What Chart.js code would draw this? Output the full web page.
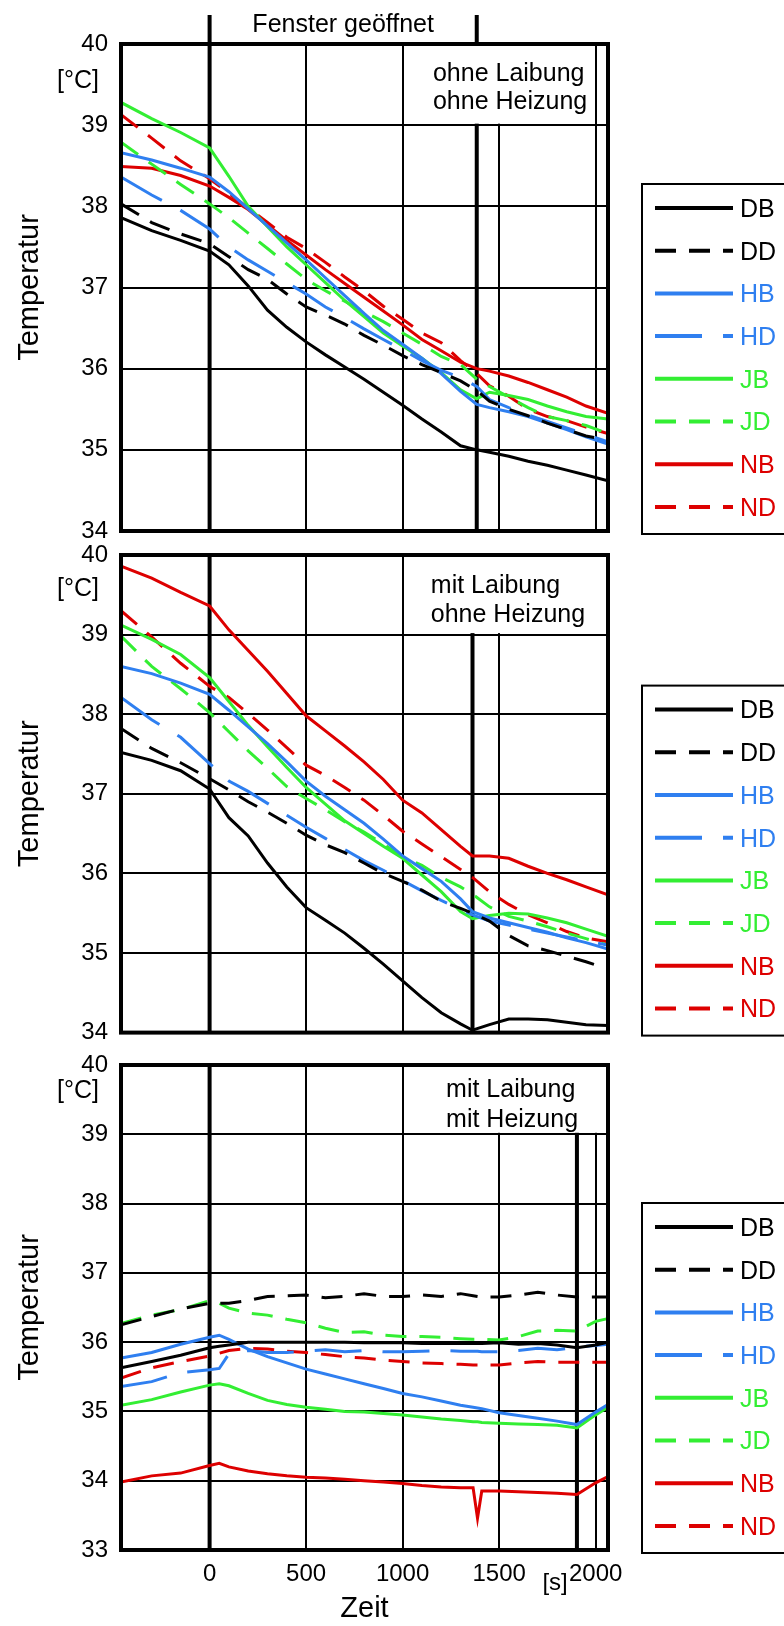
<!DOCTYPE html>
<html lang="de">
<head>
<meta charset="utf-8">
<title>Temperaturverlauf Fenster</title>
<script src="https://cdn.jsdelivr.net/npm/chart.js@4.4.0/dist/chart.umd.min.js"></script>
<style>
  html, body { margin: 0; padding: 0; background: #fff; }
  #wrap { position: relative; width: 784px; height: 1626px; overflow: hidden; }
  #wrap canvas { position: absolute; left: 0; }
</style>
</head>
<body>
<div id="wrap">
  <canvas id="chart1" width="784" height="560" style="top:0px"></canvas>
  <canvas id="chart2" width="784" height="540" style="top:520px"></canvas>
  <canvas id="chart3" width="784" height="596" style="top:1030px"></canvas>
</div>
<script>
// Messreihen (Reihenfolge wie Legende)
const reihen = ['DB', 'DD', 'HB', 'HD', 'JB', 'JD', 'NB', 'ND'];
const xTicks = [0, 500, 1000, 1500, 2000];
const yTicks12 = [34, 35, 36, 37, 38, 39, 40];
const yTicks3 = [33, 34, 35, 36, 37, 38, 39, 40];
const fensterZu = [1384, 1362, 1903];   // Fenster wieder geschlossen [s]
const panelText = [
    ['ohne Laibung', 'ohne Heizung'],
    ['mit Laibung', 'ohne Heizung'],
    ['mit Laibung', 'mit Heizung']
];

// oben: ohne Laibung, ohne Heizung
const zeit1 = [-459, -300, -150, 0, 100, 200, 300, 400, 500, 600, 700, 800, 900, 1000, 1100, 1200, 1300, 1384, 1450, 1550, 1650, 1750, 1850, 1950, 2064];
const db1 = [37.86, 37.70, 37.58, 37.45, 37.28, 37.02, 36.72, 36.51, 36.33, 36.17, 36.02, 35.87, 35.71, 35.55, 35.38, 35.22, 35.05, 35.00, 34.97, 34.92, 34.86, 34.81, 34.75, 34.69, 34.62];
const dd1 = [38.03, 37.80, 37.66, 37.54, 37.38, 37.22, 37.10, 36.92, 36.76, 36.66, 36.55, 36.41, 36.29, 36.16, 36.05, 35.95, 35.85, 35.73, 35.60, 35.50, 35.42, 35.33, 35.25, 35.17, 35.12];
const hb1 = [38.66, 38.57, 38.47, 38.36, 38.18, 37.97, 37.76, 37.55, 37.34, 37.12, 36.90, 36.68, 36.47, 36.30, 36.13, 35.94, 35.72, 35.56, 35.52, 35.47, 35.41, 35.33, 35.25, 35.16, 35.07];
const hd1 = [38.36, 38.14, 37.95, 37.72, 37.50, 37.34, 37.20, 37.06, 36.92, 36.76, 36.63, 36.49, 36.36, 36.23, 36.10, 35.98, 35.89, 35.78, 35.62, 35.52, 35.43, 35.35, 35.27, 35.19, 35.10];
const jb1 = [39.28, 39.08, 38.91, 38.72, 38.37, 38.00, 37.75, 37.50, 37.28, 37.06, 36.84, 36.64, 36.44, 36.28, 36.13, 35.95, 35.74, 35.63, 35.71, 35.67, 35.62, 35.54, 35.47, 35.41, 35.38];
const jd1 = [38.79, 38.52, 38.27, 38.03, 37.86, 37.67, 37.48, 37.29, 37.10, 36.96, 36.83, 36.70, 36.58, 36.44, 36.30, 36.15, 36.05, 35.87, 35.78, 35.65, 35.52, 35.41, 35.36, 35.30, 35.20];
const nb1 = [38.49, 38.47, 38.38, 38.25, 38.11, 37.96, 37.77, 37.58, 37.40, 37.22, 37.05, 36.88, 36.71, 36.54, 36.36, 36.22, 36.08, 36.00, 35.97, 35.91, 35.83, 35.74, 35.65, 35.54, 35.45];
const nd1 = [39.13, 38.84, 38.56, 38.34, 38.16, 37.98, 37.80, 37.62, 37.48, 37.31, 37.13, 36.96, 36.77, 36.61, 36.44, 36.32, 36.10, 35.94, 35.79, 35.66, 35.50, 35.41, 35.36, 35.28, 35.20];

// mitte: mit Laibung, ohne Heizung
const zeit2 = [-459, -300, -150, 0, 100, 200, 300, 400, 500, 600, 700, 800, 900, 1000, 1100, 1200, 1300, 1362, 1450, 1550, 1650, 1750, 1850, 1950, 2064];
const db2 = [37.52, 37.42, 37.29, 37.06, 36.70, 36.47, 36.13, 35.83, 35.57, 35.41, 35.25, 35.06, 34.86, 34.65, 34.44, 34.25, 34.11, 34.03, 34.10, 34.17, 34.17, 34.16, 34.13, 34.10, 34.09];
const dd2 = [37.82, 37.57, 37.39, 37.19, 37.05, 36.90, 36.77, 36.63, 36.48, 36.36, 36.26, 36.13, 36.00, 35.90, 35.79, 35.65, 35.56, 35.50, 35.40, 35.22, 35.09, 35.03, 34.96, 34.89, 34.80];
const hb2 = [38.60, 38.51, 38.39, 38.25, 38.05, 37.84, 37.63, 37.40, 37.16, 36.97, 36.80, 36.63, 36.43, 36.22, 36.06, 35.90, 35.68, 35.52, 35.44, 35.38, 35.32, 35.26, 35.19, 35.13, 35.05];
const hd2 = [38.21, 37.93, 37.71, 37.38, 37.16, 37.03, 36.88, 36.73, 36.58, 36.44, 36.30, 36.16, 36.04, 35.91, 35.78, 35.66, 35.55, 35.48, 35.40, 35.35, 35.30, 35.25, 35.20, 35.15, 35.10];
const jb2 = [39.12, 38.94, 38.75, 38.46, 38.16, 37.86, 37.59, 37.33, 37.08, 36.87, 36.66, 36.50, 36.34, 36.19, 35.98, 35.77, 35.52, 35.43, 35.47, 35.50, 35.49, 35.44, 35.38, 35.30, 35.21];
const jd2 = [38.98, 38.60, 38.32, 38.02, 37.78, 37.54, 37.32, 37.09, 36.94, 36.80, 36.65, 36.52, 36.37, 36.21, 36.10, 35.95, 35.83, 35.74, 35.58, 35.46, 35.40, 35.33, 35.25, 35.18, 35.10];
const nb2 = [39.86, 39.71, 39.53, 39.36, 39.06, 38.80, 38.54, 38.26, 37.98, 37.79, 37.60, 37.40, 37.18, 36.92, 36.76, 36.55, 36.34, 36.22, 36.22, 36.19, 36.09, 36.00, 35.92, 35.83, 35.73];
const nd2 = [39.30, 38.97, 38.64, 38.35, 38.21, 38.01, 37.80, 37.58, 37.36, 37.23, 37.08, 36.92, 36.73, 36.53, 36.37, 36.21, 36.05, 35.95, 35.77, 35.61, 35.48, 35.38, 35.27, 35.19, 35.14];

// unten: mit Laibung, mit Heizung
const zeit3 = [-459, -300, -150, 0, 50, 100, 200, 300, 400, 500, 600, 700, 800, 900, 1000, 1100, 1200, 1300, 1365, 1388, 1410, 1500, 1600, 1700, 1800, 1903, 2000, 2064];
const db3 = [35.63, 35.72, 35.81, 35.92, 35.94, 35.96, 36.00, 36.00, 36.00, 36.00, 36.00, 36.00, 35.99, 35.99, 35.99, 35.98, 35.98, 35.98, 35.98, 35.98, 35.98, 35.99, 35.97, 35.98, 35.96, 35.92, 35.96, 36.00];
const dd3 = [36.25, 36.37, 36.48, 36.56, 36.56, 36.56, 36.60, 36.66, 36.67, 36.68, 36.64, 36.66, 36.70, 36.66, 36.66, 36.68, 36.66, 36.70, 36.67, 36.66, 36.65, 36.65, 36.68, 36.72, 36.68, 36.65, 36.65, 36.65];
const hb3 = [35.77, 35.85, 35.97, 36.07, 36.10, 36.04, 35.90, 35.79, 35.70, 35.61, 35.54, 35.47, 35.40, 35.33, 35.26, 35.21, 35.15, 35.09, 35.06, 35.05, 35.04, 34.98, 34.94, 34.90, 34.86, 34.81, 34.99, 35.10];
const hd3 = [35.36, 35.43, 35.56, 35.60, 35.62, 35.83, 35.88, 35.85, 35.85, 35.87, 35.89, 35.86, 35.88, 35.86, 35.86, 35.87, 35.88, 35.87, 35.87, 35.87, 35.86, 35.86, 35.88, 35.91, 35.89, 35.93, 35.95, 35.97];
const jb3 = [35.09, 35.17, 35.28, 35.38, 35.40, 35.37, 35.26, 35.16, 35.10, 35.06, 35.03, 35.00, 34.99, 34.97, 34.95, 34.92, 34.89, 34.87, 34.85, 34.85, 34.84, 34.83, 34.82, 34.81, 34.80, 34.76, 34.95, 35.06];
const jd3 = [36.27, 36.39, 36.47, 36.60, 36.56, 36.49, 36.42, 36.39, 36.33, 36.28, 36.20, 36.14, 36.15, 36.10, 36.08, 36.08, 36.07, 36.05, 36.04, 36.04, 36.04, 36.03, 36.08, 36.16, 36.17, 36.16, 36.30, 36.34];
const nb3 = [33.98, 34.07, 34.11, 34.22, 34.25, 34.20, 34.14, 34.10, 34.07, 34.05, 34.04, 34.02, 34.00, 33.98, 33.96, 33.93, 33.91, 33.90, 33.90, 33.46, 33.85, 33.85, 33.84, 33.83, 33.82, 33.80, 33.97, 34.06];
const nd3 = [35.48, 35.63, 35.72, 35.80, 35.84, 35.88, 35.91, 35.90, 35.87, 35.85, 35.82, 35.79, 35.77, 35.74, 35.72, 35.70, 35.69, 35.68, 35.67, 35.67, 35.67, 35.67, 35.70, 35.72, 35.71, 35.71, 35.71, 35.71];

const SCHRIFT = '"Liberation Sans", Arial, Helvetica, sans-serif';
Chart.defaults.font.family = SCHRIFT;
Chart.defaults.color = '#000';

function farbe(name) {
    return { D: '#000000', H: '#2f7ff0', J: '#33ee33', N: '#dd0000' }[name[0]];
}

function strich(name) {
    if (name === 'HD') return [47, 21];
    return name[1] === 'D' ? [21, 13] : [];
}

// Rahmen, Fensterlinien, Beschriftungen und Legende
function rahmenPlugin(p, nr) {
    return {
        id: 'rahmen' + nr,
        beforeDatasetsDraw(chart) {
            const { ctx, chartArea: a, scales: { x, y } } = chart;
            ctx.save();
            ctx.strokeStyle = '#000';
            ctx.lineWidth = 4;
            [0, fensterZu[nr]].forEach(v => {
                const px = x.getPixelForValue(v);
                ctx.beginPath();
                ctx.moveTo(px, p.klammer ? a.top - 29 : a.top);
                ctx.lineTo(px, a.bottom);
                ctx.stroke();
            });
            // Feld fuer den Panel-Titel
            const bx0 = x.getPixelForValue(1000) + 1.5;
            const bx1 = p.boxBis ? x.getPixelForValue(p.boxBis) - 1.5 : a.right;
            const by1 = y.getPixelForValue(39) - 1.5;
            ctx.fillStyle = '#fff';
            ctx.fillRect(bx0, a.top, bx1 - bx0, by1 - a.top);
            ctx.fillStyle = '#000';
            ctx.font = '25px ' + SCHRIFT;
            ctx.textAlign = 'left';
            ctx.textBaseline = 'alphabetic';
            const tx = x.getPixelForValue(p.textX);
            ctx.fillText(panelText[nr][0], tx, a.top + p.textY[0]);
            ctx.fillText(panelText[nr][1], tx, a.top + p.textY[1]);
            ctx.restore();
        },
        afterDraw(chart) {
            const { ctx, chartArea: a, scales: { x, y } } = chart;
            ctx.save();
            ctx.strokeStyle = '#000';
            ctx.lineWidth = 4;
            ctx.strokeRect(a.left, a.top, a.right - a.left, a.bottom - a.top);

            ctx.fillStyle = '#000';
            ctx.font = '25px ' + SCHRIFT;
            ctx.textAlign = 'right';
            ctx.textBaseline = 'middle';
            ctx.fillText('[°C]', y.right - 22, y.getPixelForValue(p.gradC));

            if (p.klammer) {
                ctx.textAlign = 'center';
                ctx.textBaseline = 'alphabetic';
                const mx = (x.getPixelForValue(0) + x.getPixelForValue(fensterZu[nr])) / 2;
                ctx.fillText('Fenster geöffnet', mx, a.top - 12);
            }
            if (p.achse) {
                ctx.font = '24px ' + SCHRIFT;
                ctx.textAlign = 'center';
                ctx.textBaseline = 'middle';
                ctx.fillText('[s]', x.getPixelForValue(1790), a.bottom + 33);
            }

            // Legende
            const top = a.bottom - 347;
            ctx.lineWidth = 2;
            ctx.strokeRect(642, top, 200, 350);
            chart.data.datasets.forEach((ds, i) => {
                const yy = top + 24 + i * 42.7;
                ctx.strokeStyle = ds.borderColor;
                ctx.lineWidth = 4;
                ctx.setLineDash(ds.borderDash);
                ctx.beginPath();
                ctx.moveTo(655, yy);
                ctx.lineTo(733, yy);
                ctx.stroke();
                ctx.setLineDash([]);
                ctx.fillStyle = ds.borderColor;
                ctx.font = '25px ' + SCHRIFT;
                ctx.textAlign = 'left';
                ctx.textBaseline = 'middle';
                ctx.fillText(ds.label, 740, yy + 2);
            });
            ctx.restore();
        }
    };
}

const panels = [
    { id: 'chart1', zeit: zeit1, werte: [db1, dd1, hb1, hd1, jb1, jd1, nb1, nd1], yTicks: yTicks12,
      pad: { top: 44, right: 176, bottom: 29, left: 0 }, achse: false, klammer: true,
      boxBis: 2000, linie2000: true, textX: 1157, textY: [37, 65], gradC: 39.54 },
    { id: 'chart2', zeit: zeit2, werte: [db2, dd2, hb2, hd2, jb2, jd2, nb2, nd2], yTicks: yTicks12,
      pad: { top: 35, right: 176, bottom: 19, left: 0 }, achse: false, klammer: false,
      boxBis: null, linie2000: false, textX: 1146, textY: [38, 67], gradC: 39.57 },
    { id: 'chart3', zeit: zeit3, werte: [db3, dd3, hb3, hd3, jb3, jd3, nb3, nd3], yTicks: yTicks3,
      pad: { top: 35, right: 176, bottom: 0, left: 0 }, achse: true, klammer: false,
      boxBis: null, linie2000: true, textX: 1225, textY: [32, 62], gradC: 39.62 }
];

function macheChart(p, nr) {
    const datasets = reihen.map((name, i) => ({
        label: name,
        data: p.zeit.map((t, j) => ({ x: t, y: p.werte[i][j] })),
        borderColor: farbe(name),
        borderWidth: 3,
        borderDash: strich(name),
        pointRadius: 0,
        tension: 0,
        fill: false
    }));

    new Chart(document.getElementById(p.id), {
        type: 'line',
        data: { datasets: datasets },
        options: {
            responsive: false,
            animation: false,
            devicePixelRatio: 1,
            layout: { padding: p.pad },
            plugins: {
                legend: { display: false },
                tooltip: { enabled: false }
            },
            scales: {
                x: {
                    type: 'linear',
                    min: -459,
                    max: 2064,
                    afterBuildTicks: s => { s.ticks = xTicks.map(v => ({ value: v })); },
                    afterFit: s => { s.height = p.achse ? 76 : 0; },
                    grid: {
                        color: c => (c.tick && c.tick.value === 2000 && !p.linie2000) ? 'rgba(0,0,0,0)' : '#000',
                        lineWidth: 2,
                        drawTicks: false
                    },
                    border: { display: false },
                    ticks: {
                        display: p.achse,
                        font: { size: 24 },
                        padding: 10,
                        maxRotation: 0,
                        callback: v => String(v)
                    },
                    title: {
                        display: p.achse,
                        text: 'Zeit',
                        font: { size: 29 },
                        padding: { top: 0, bottom: 0 }
                    }
                },
                y: {
                    min: p.yTicks[0],
                    max: p.yTicks[p.yTicks.length - 1],
                    afterBuildTicks: s => { s.ticks = p.yTicks.map(v => ({ value: v })); },
                    afterFit: s => { s.width = 121; },
                    grid: { color: '#000', lineWidth: 2, drawTicks: false },
                    border: { display: false },
                    ticks: { font: { size: 24 }, padding: 13, callback: v => String(v) },
                    title: {
                        display: true,
                        text: 'Temperatur',
                        font: { size: 29 },
                        padding: { top: 13, bottom: 0 }
                    }
                }
            }
        },
        plugins: [rahmenPlugin(p, nr)]
    });
}

panels.forEach(macheChart);
</script>
</body>
</html>
